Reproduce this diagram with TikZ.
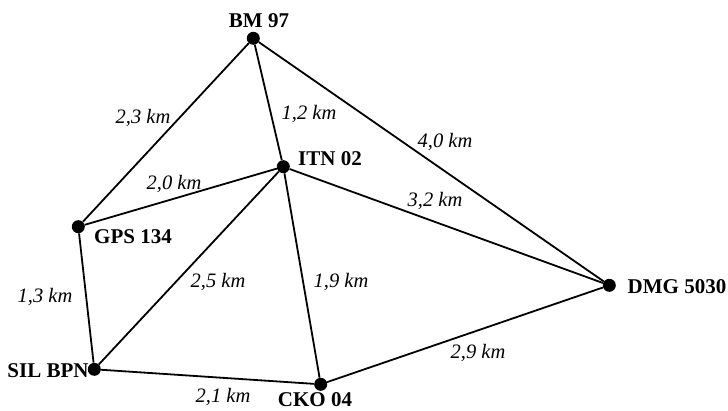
\documentclass[tikz,border=0pt]{standalone}
\usepackage{fontspec}
\setmainfont{Liberation Serif}
\usepackage{tikz}

\begin{document}
\begin{tikzpicture}[x=1pt,y=-1pt,
  station/.style={circle,fill=black,inner sep=0pt,minimum size=13pt},
  stationtag/.style={font=\fontsize{21}{24}\selectfont\bfseries,inner sep=0pt},
  dist/.style={font=\fontsize{20.5}{24}\selectfont\itshape,inner sep=0pt},
  leg/.style={line width=1.8pt}]
\useasboundingbox (0,0) rectangle (728,410);

\node [station] (bm) at (253.3,38.3) {};
\node [station] (itn) at (283.3,166.7) {};
\node [station] (gps) at (78.3,226.7) {};
\node [station] (sil) at (94.3,369.3) {};
\node [station] (cko) at (320.7,384.3) {};
\node [station] (dmg) at (609.3,285.3) {};

\draw [leg] (bm) -- (gps);
\draw [leg] (bm) -- (itn);
\draw [leg] (bm) -- (dmg);
\draw [leg] (gps) -- (itn);
\draw [leg] (gps) -- (sil);
\draw [leg] (itn) -- (sil);
\draw [leg] (itn) -- (cko);
\draw [leg] (itn) -- (dmg);
\draw [leg] (sil) -- (cko);
\draw [leg] (cko) -- (dmg);

\node [stationtag] (bmtag) at (259,21) {BM 97};
\node [stationtag] (itntag) at (330,159) {ITN 02};
\node [stationtag] (gpstag) at (133,237) {GPS 134};
\node [stationtag] (siltag) at (48,371) {SIL BPN};
\node [stationtag] (ckotag) at (315,400) {CKO 04};
\node [stationtag] (dmgtag) at (677,287) {DMG 5030};

\node [dist] at (143,118) {2,3 km};
\node [dist] at (309,114) {1,2 km};
\node [dist] at (445,142) {4,0 km};
\node [dist] at (174,184) {2,0 km};
\node [dist] at (435,201) {3,2 km};
\node [dist] at (45,297) {1,3 km};
\node [dist] at (218,282) {2,5 km};
\node [dist] at (341,282) {1,9 km};
\node [dist] at (478,353) {2,9 km};
\node [dist] at (223,397) {2,1 km};
\end{tikzpicture}
\end{document}
